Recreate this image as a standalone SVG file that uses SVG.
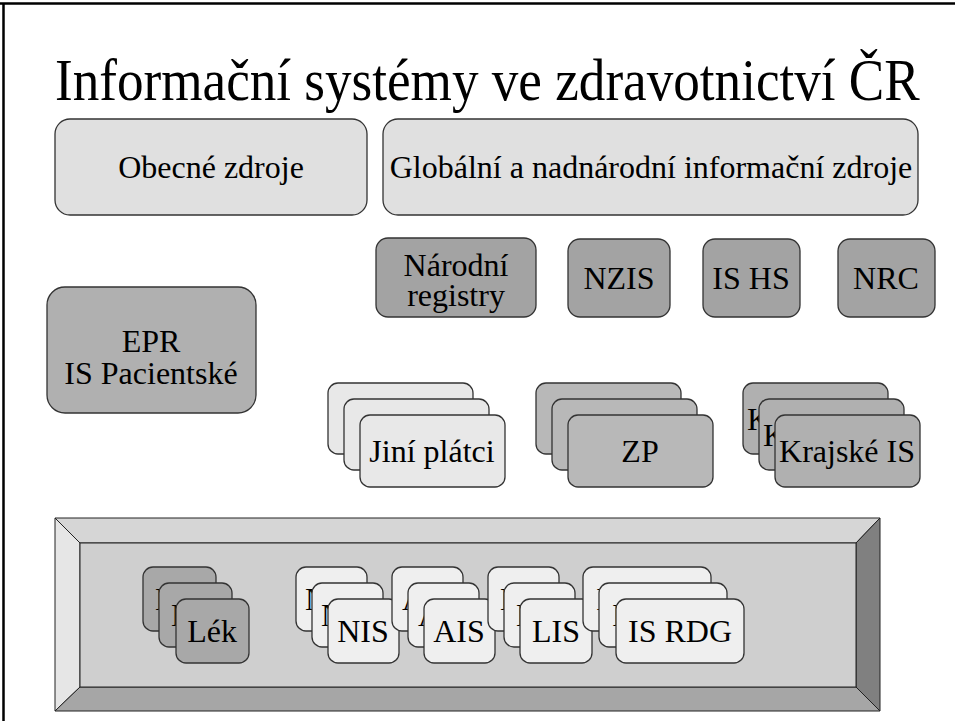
<svg xmlns="http://www.w3.org/2000/svg" width="955" height="721" viewBox="0 0 955 721">
<style>
text{font-family:"Liberation Serif","Times New Roman",serif;font-size:32px;fill:#000;text-anchor:middle}
.title{font-size:53px;text-anchor:start}
rect.b{stroke:#333;stroke-width:1.3}
.l1{fill:#e0e0e0}.l2{fill:#e8e8e8}.l3{fill:#efefef}
.d1{fill:#a3a3a3}.d2{fill:#b0b0b0}.d3{fill:#b8b8b8}.d4{fill:#a8a8a8}
.bev{stroke:#222;stroke-width:1}
.frag{text-anchor:start}
</style>
<rect width="955" height="721" fill="#fff"/>
<path d="M0 3.5H955M3.5 3.5V721" stroke="#000" stroke-width="2.5" fill="none"/>
<text class="title" x="0" y="0" transform="translate(55,100) scale(1.003,1.1)">Informační systémy ve zdravotnictví ČR</text>

<g id="obecne"><rect class="b l1" x="55" y="119" width="312" height="96" rx="15"/><text x="211" y="178">Obecné zdroje</text></g>
<g id="globalni"><rect class="b l1" x="383" y="119" width="535" height="96" rx="15"/><text x="651" y="178">Globální a nadnárodní informační zdroje</text></g>

<g id="narodni"><rect class="b d1" x="376" y="238" width="160" height="79" rx="12"/><text x="456" y="276">Národní</text><text x="456" y="306">registry</text></g>
<g id="nzis"><rect class="b d1" x="568" y="239" width="102" height="78" rx="12"/><text x="619" y="289">NZIS</text></g>
<g id="ishs"><rect class="b d1" x="703" y="239" width="97" height="78" rx="12"/><text x="751" y="289">IS HS</text></g>
<g id="nrc"><rect class="b d1" x="838" y="239" width="97" height="78" rx="12"/><text x="886" y="289">NRC</text></g>

<g id="epr"><rect class="b d2" x="47" y="287" width="209" height="126" rx="18"/><text x="151" y="352">EPR</text><text x="151" y="384">IS Pacientské</text></g>

<g id="jini">
<rect class="b l2" x="328" y="383" width="145" height="71" rx="10"/>
<rect class="b l2" x="344" y="399" width="145" height="71" rx="10"/>
<rect class="b l2" x="360" y="415" width="145" height="72" rx="10"/>
<text x="432" y="462">Jiní plátci</text>
</g>
<g id="zp">
<rect class="b d3" x="536" y="383" width="145" height="71" rx="10"/>
<rect class="b d3" x="552" y="399" width="145" height="71" rx="10"/>
<rect class="b d3" x="568" y="415" width="145" height="72" rx="10"/>
<text x="640" y="462">ZP</text>
</g>
<g id="krajske">
<rect class="b d2" x="743" y="383" width="145" height="71" rx="10"/>
<text class="frag" x="747" y="430">K</text>
<rect class="b d2" x="759" y="399" width="145" height="71" rx="10"/>
<text class="frag" x="763" y="446">K</text>
<rect class="b d2" x="775" y="415" width="145" height="72" rx="10"/>
<text x="847" y="462">Krajské IS</text>
</g>

<g id="panel">
<polygon class="bev" points="55,518 880,518 856,543 80,543" fill="#d6d6d6"/>
<polygon class="bev" points="55,518 80,543 80,687 55,711" fill="#e6e6e6"/>
<polygon class="bev" points="880,518 880,711 856,687 856,543" fill="#808080"/>
<polygon class="bev" points="55,711 80,687 856,687 880,711" fill="#a6a6a6"/>
<rect class="bev" x="80" y="543" width="776" height="144" fill="#cfcfcf"/>
</g>

<g id="lek">
<rect class="b d4" x="143" y="567" width="73" height="64" rx="10"/><text class="frag" x="155" y="610">L</text>
<rect class="b d4" x="159" y="583" width="73" height="64" rx="10"/><text class="frag" x="171" y="626">L</text>
<rect class="b d4" x="176" y="599" width="73" height="64" rx="10"/><text x="212" y="642">Lék</text>
</g>
<g id="nis">
<rect class="b l3" x="296" y="567" width="71" height="64" rx="10"/><text class="frag" x="305" y="610">N</text>
<rect class="b l3" x="312" y="583" width="71" height="64" rx="10"/><text class="frag" x="321" y="626">N</text>
<rect class="b l3" x="328" y="599" width="71" height="64" rx="10"/><text x="363" y="642">NIS</text>
</g>
<g id="ais">
<rect class="b l3" x="392" y="567" width="71" height="64" rx="10"/><text class="frag" x="402" y="610">A</text>
<rect class="b l3" x="408" y="583" width="71" height="64" rx="10"/><text class="frag" x="418" y="626">A</text>
<rect class="b l3" x="424" y="599" width="71" height="64" rx="10"/><text x="459" y="642">AIS</text>
</g>
<g id="lis">
<rect class="b l3" x="488" y="567" width="71" height="64" rx="10"/><text class="frag" x="500" y="610">L</text>
<rect class="b l3" x="504" y="583" width="71" height="64" rx="10"/><text class="frag" x="516" y="626">L</text>
<rect class="b l3" x="520" y="599" width="72" height="64" rx="10"/><text x="556" y="642">LIS</text>
</g>
<g id="isrdg">
<rect class="b l3" x="583" y="567" width="128" height="64" rx="10"/><text class="frag" x="596" y="610">I</text>
<rect class="b l3" x="599" y="583" width="128" height="64" rx="10"/><text class="frag" x="612" y="626">I</text>
<rect class="b l3" x="616" y="599" width="128" height="64" rx="10"/><text x="680" y="642">IS RDG</text>
</g>
<g id="connectors"></g>
</svg>
